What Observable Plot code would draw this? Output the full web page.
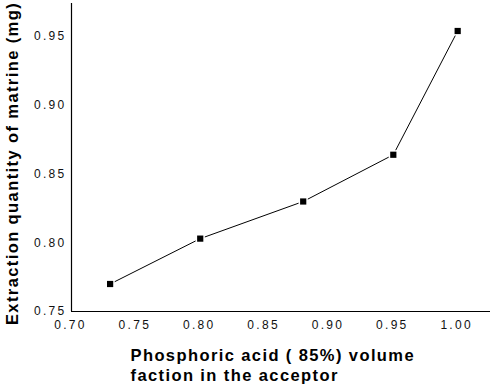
<!DOCTYPE html>
<html>
<head>
<meta charset="utf-8">
<script src="https://cdn.jsdelivr.net/npm/d3@7"></script>
<script src="https://cdn.jsdelivr.net/npm/@observablehq/plot@0.6"></script>
<style>
  html, body { margin: 0; padding: 0; background: #fff; }
  #chart svg { display: block; }
  #chart svg g[aria-label="x-axis tick label"] text,
  #chart svg g[aria-label="y-axis tick label"] text { letter-spacing: 2.3px; }
  #chart svg g[aria-label="text"] text { letter-spacing: 1.4px; }
</style>
</head>
<body>
<div id="chart"></div>
<script>
const fraction = [0.73, 0.80, 0.88, 0.95, 1.00];
const extraction = [0.770, 0.803, 0.830, 0.864, 0.954];
const xTicks = [0.70, 0.75, 0.80, 0.85, 0.90, 0.95, 1.00];
const yTicks = [0.75, 0.80, 0.85, 0.90, 0.95];
const xLabel = "Phosphoric acid ( 85%) volume\nfaction in the acceptor";
const yLabel = "Extraction quantity of matrine (mg)";

const data = fraction.map((f, i) => ({x: f, y: extraction[i]}));
const xDomain = [0.70, 1.0255];
const yDomain = [0.75, 0.974];

const chart = Plot.plot({
  width: 491,
  height: 388,
  marginLeft: 71,
  marginRight: 1,
  marginTop: 3,
  marginBottom: 77,
  style: {fontFamily: "'Liberation Sans', Arial, sans-serif", background: "#fff", color: "#000"},
  x: {domain: xDomain},
  y: {domain: yDomain},
  marks: [
    Plot.ruleX([xDomain[0]], {stroke: "#000", strokeWidth: 1.2}),
    Plot.ruleY([yDomain[0]], {stroke: "#000", strokeWidth: 1.2}),
    Plot.axisX(xTicks, {tickSize: 0, tickPadding: 9, dx: -1, fontSize: 12, fill: "#111",
      tickFormat: d => d.toFixed(2), label: null}),
    Plot.axisY(yTicks, {tickSize: 0, tickPadding: 5, fontSize: 12, fill: "#111",
      tickFormat: d => d.toFixed(2), label: null}),
    Plot.line(data, {x: "x", y: "y", stroke: "#000", strokeWidth: 1}),
    Plot.dot(data, {x: "x", y: "y", symbol: "square", r: 5.2, fill: "#fff", stroke: "none"}),
    Plot.dot(data, {x: "x", y: "y", symbol: "square", r: 3.5, fill: "#000", stroke: "none"}),
    Plot.text([yLabel], {frameAnchor: "left", textAnchor: "middle", rotate: -90, dx: -59, dy: 6, fontSize: 16.5,
      fontWeight: "bold", fill: "#000"}),
    Plot.text([xLabel], {frameAnchor: "bottom-left", textAnchor: "start", lineAnchor: "top",
      dx: 59, dy: 35, fontSize: 16.5, fontWeight: "bold", lineHeight: 1.21, fill: "#000"})
  ]
});
document.getElementById("chart").appendChild(chart);
</script>
</body>
</html>
